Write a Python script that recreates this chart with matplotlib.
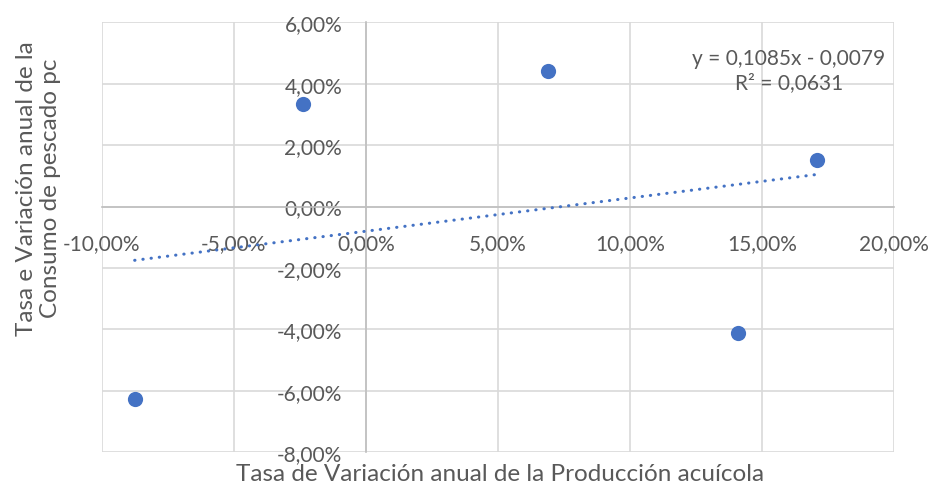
import matplotlib.pyplot as plt
import numpy as np
from matplotlib.ticker import FuncFormatter, MultipleLocator

# Tasa de variación anual (fracciones)
produccion = [-0.0236, 0.0691, 0.1708, -0.0875, 0.1411]
consumo = [0.0333, 0.0440, 0.0153, -0.0625, -0.0410]
trend_label = "y = 0,1085x - 0,0079\nR² = 0,0631"

plt.rcParams['font.family'] = ['Lato', 'DejaVu Sans']
gray_text = '#595959'
blue = '#4472C4'


def pct(v, pos):
    return f"{v * 100:.2f}%".replace('.', ',')


fig = plt.figure(figsize=(9.31, 4.85), dpi=100)
ax = fig.add_axes([0.1092, 0.0653, 0.8511, 0.8867])

ax.scatter(produccion, consumo, s=120, color=blue, zorder=4, linewidths=0)

# linea de tendencia lineal
slope, intercept = np.polyfit(produccion, consumo, 1)
xs = np.array([min(produccion), max(produccion)])
ax.plot(xs, slope * xs + intercept, color=blue, lw=2.2,
        linestyle=(0, (0.1, 2.6)), dash_capstyle='round', zorder=3)

ax.text(0.867, 0.889, trend_label, transform=ax.transAxes, ha='center',
        va='center', fontsize=15, color=gray_text, linespacing=1.3)

ax.set_xlim(-0.10, 0.20)
ax.set_ylim(-0.08, 0.06)
ax.xaxis.set_major_locator(MultipleLocator(0.05))
ax.yaxis.set_major_locator(MultipleLocator(0.02))
ax.xaxis.set_major_formatter(FuncFormatter(pct))
ax.yaxis.set_major_formatter(FuncFormatter(pct))

ax.grid(True, color='#d9d9d9', lw=1.2)
ax.set_axisbelow(True)
for side in ['top', 'right']:
    ax.spines[side].set_visible(False)
ax.spines['left'].set_position(('data', 0))
ax.spines['bottom'].set_position(('data', 0))
for side in ['left', 'bottom']:
    ax.spines[side].set_color('#bfbfbf')
    ax.spines[side].set_linewidth(1.2)

ax.tick_params(axis='y', length=0, pad=17, labelsize=15, labelcolor=gray_text)
ax.tick_params(axis='x', length=0, pad=19, labelsize=15, labelcolor=gray_text)

fig.text(0.537, 0.021, "Tasa de Variación anual de la Producción acuícola",
         ha='center', va='center', fontsize=17.5, color=gray_text)
fig.text(0.0414, 0.612, "Tasa e Variación anual de la\nConsumo de pescado pc",
         ha='center', va='center', rotation=90, fontsize=17.5, color=gray_text,
         linespacing=1.15)

fig.savefig('out.png', dpi=100)
